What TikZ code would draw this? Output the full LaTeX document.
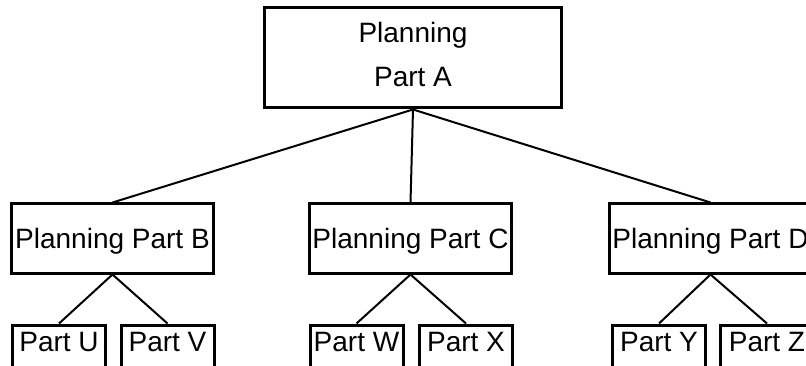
\documentclass[tikz,border=0pt]{standalone}
\usepackage{fontspec}
\setmainfont{Liberation Sans}
\usepackage{tikz}

\tikzset{
  plan/.style={draw, line width=3pt, inner sep=0pt, anchor=north,
    minimum width=202pt, text height=44pt, text depth=25pt},
  part/.style={draw, line width=3pt, inner sep=0pt, anchor=north,
    minimum width=93pt, text height=26.5pt, text depth=24pt},
  link/.style={line width=2pt}
}

\begin{document}
\begin{tikzpicture}[x=1pt, y=-1pt, every node/.style={font=\fontsize{28}{44}\selectfont}]

    \clip (0,0) rectangle (806,366);
    \useasboundingbox (0,0) rectangle (806,366);

    \node[draw, line width=3pt, inner sep=0pt, anchor=north, align=center, text depth=7pt,
      minimum width=297pt, minimum height=100pt] (A) at (413,6.5) {Planning\\Part A};

    \node[plan] (B) at (112.5,202.5) {Planning Part B};
    \node[plan] (C) at (410.5,202.5) {Planning Part C};
    \node[plan] (D) at (710.5,202.5) {Planning Part D};

    % bottom row
    \node[part] (U) at (59,323.5) {Part U};
    \node[part] (V) at (167.5,323.5) {Part V};
    \node[part] (W) at (356.5,323.5) {Part W};
    \node[part] (X) at (466,323.5) {Part X};
    \node[part] (Y) at (659,323.5) {Part Y};
    \node[part] (Z) at (767,323.5) {Part Z};

    \draw[link] (A.south) -- (B.north);
    \draw[link] (A.south) -- (C.north);
    \draw[link] (A.south) -- (D.north);

    \draw[link] (B.south) -- (U.north);
    \draw[link] (B.south) -- (V.north);
    \draw[link] (C.south) -- (W.north);
    \draw[link] (C.south) -- (X.north);
    \draw[link] (D.south) -- (Y.north);
    \draw[link] (D.south) -- (Z.north);

\end{tikzpicture}
\end{document}
